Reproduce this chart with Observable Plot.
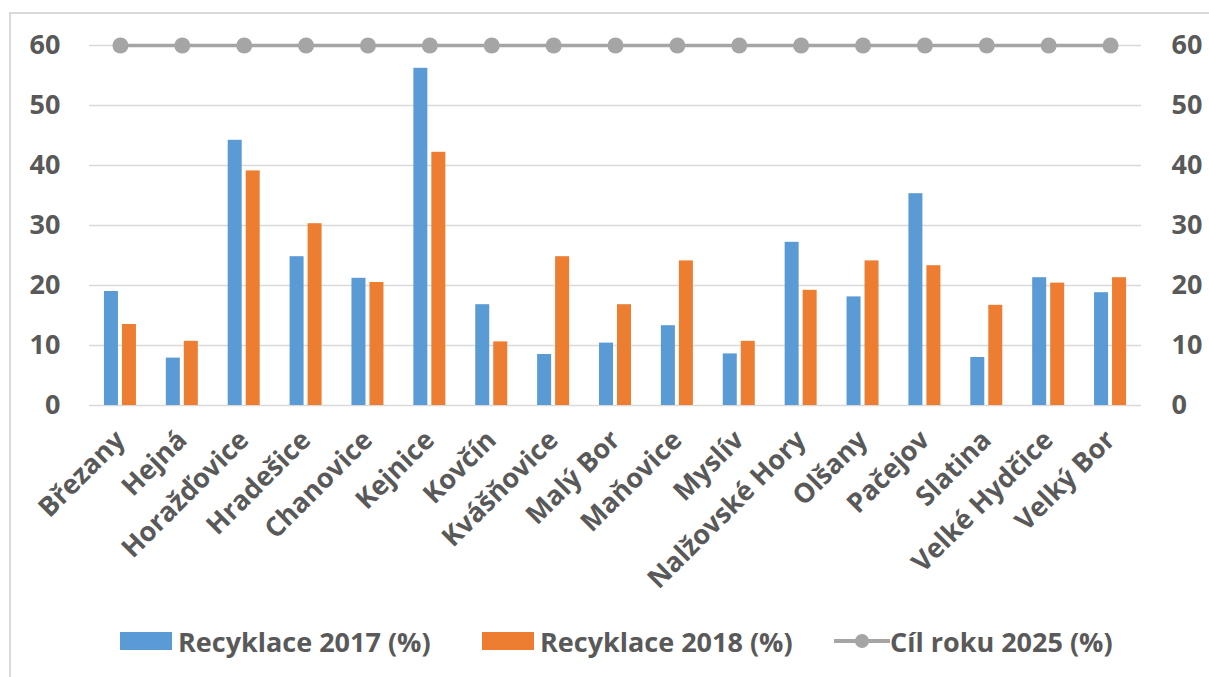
<!DOCTYPE html>
<html>
<head>
<meta charset="utf-8">
<script src="https://cdn.jsdelivr.net/npm/d3@7"></script>
<script src="https://cdn.jsdelivr.net/npm/@observablehq/plot@0.6"></script>
<style>
  html, body { margin: 0; padding: 0; background: #fff; }
  body { width: 1209px; height: 677px; overflow: hidden; position: relative; font-family: "Open Sans", sans-serif; }
  #frame { position: absolute; left: 9px; top: 12px; width: 1300px; height: 800px; border: 2px solid #d9d9d9; box-sizing: border-box; pointer-events: none; }
  #chart { position: absolute; left: 0; top: 0; }
  #legend { position: absolute; left: 0; top: 619px; width: 1209px; height: 44px; font-weight: 700; font-size: 27px; color: #595959; }
  .item { position: absolute; top: 0; display: flex; align-items: center; height: 44px; white-space: nowrap; }
  .sw { width: 52px; height: 18px; margin-right: 6px; }
  .ln { width: 56px; height: 18px; margin-right: 0px; }
</style>
</head>
<body>
<div id="chart"></div>
<div id="legend">
  <div class="item" style="left:120px"><div class="sw" style="background:#5b9bd5"></div><span>Recyklace 2017 (%)</span></div>
  <div class="item" style="left:482px"><div class="sw" style="background:#ed7d31"></div><span>Recyklace 2018 (%)</span></div>
  <div class="item" style="left:834px"><svg class="ln" viewBox="0 0 56 18"><line x1="0" x2="56" y1="9" y2="9" stroke="#a5a5a5" stroke-width="4"/><circle cx="28" cy="9" r="7" fill="#a5a5a5"/></svg><span>Cíl roku 2025 (%)</span></div>
</div>
<div id="frame"></div>
<script>
const categories = ["Březany", "Hejná", "Horažďovice", "Hradešice", "Chanovice", "Kejnice", "Kovčín", "Kvášňovice", "Malý Bor", "Maňovice", "Myslív", "Nalžovské Hory", "Olšany", "Pačejov", "Slatina", "Velké Hydčice", "Velký Bor"];
const recyklace2017 = [19.0, 7.9, 44.2, 24.8, 21.2, 56.2, 16.8, 8.5, 10.4, 13.3, 8.6, 27.2, 18.1, 35.3, 8.0, 21.3, 18.8];
const recyklace2018 = [13.5, 10.7, 39.1, 30.3, 20.5, 42.2, 10.6, 24.8, 16.8, 24.1, 10.7, 19.2, 24.1, 23.3, 16.7, 20.4, 21.3];
const cil2025 = categories.map(() => 60);
const yTicks = [0, 10, 20, 30, 40, 50, 60];

const rows = categories.map((c, i) => ({cat: c, v17: recyklace2017[i], v18: recyklace2018[i], goal: cil2025[i]}));

const W = 1209, H = 600;
const mL = 89, mR = 68;
const band = (W - mL - mR) / categories.length;

const chart = Plot.plot({
  width: W,
  height: H,
  marginLeft: mL,
  marginRight: mR,
  marginTop: 45,
  marginBottom: H - 405,
  style: {fontFamily: "'Open Sans', sans-serif", fontWeight: "700", fontSize: "27px", color: "#595959", background: "transparent"},
  x: {domain: categories, padding: 0, round: false, label: null},
  y: {domain: [0, 60], label: null},
  marks: [
    Plot.ruleY(yTicks, {stroke: "#d9d9d9", strokeWidth: 1.5}),
    Plot.barY(rows, {x: "cat", y: "v17", fill: "#5b9bd5", insetLeft: band / 2 - 16, insetRight: band / 2 + 2}),
    Plot.barY(rows, {x: "cat", y: "v18", fill: "#ed7d31", insetLeft: band / 2 + 2, insetRight: band / 2 - 16}),
    Plot.line(rows, {x: "cat", y: "goal", stroke: "#a5a5a5", strokeWidth: 3.5}),
    Plot.dot(rows, {x: "cat", y: "goal", r: 8, fill: "#a5a5a5", stroke: "none"}),
    Plot.axisY({anchor: "left", ticks: yTicks, tickSize: 0, tickPadding: 29, label: null, fontSize: 27, fontWeight: 700}),
    Plot.axisY({anchor: "right", ticks: yTicks, tickSize: 0, tickPadding: 30, label: null, fontSize: 27, fontWeight: 700}),
    Plot.axisX({tickRotate: -45, tickSize: 0, tickPadding: 30, label: null, fontSize: 27, fontWeight: 700})
  ]
});
document.getElementById("chart").appendChild(chart);
</script>
</body>
</html>
